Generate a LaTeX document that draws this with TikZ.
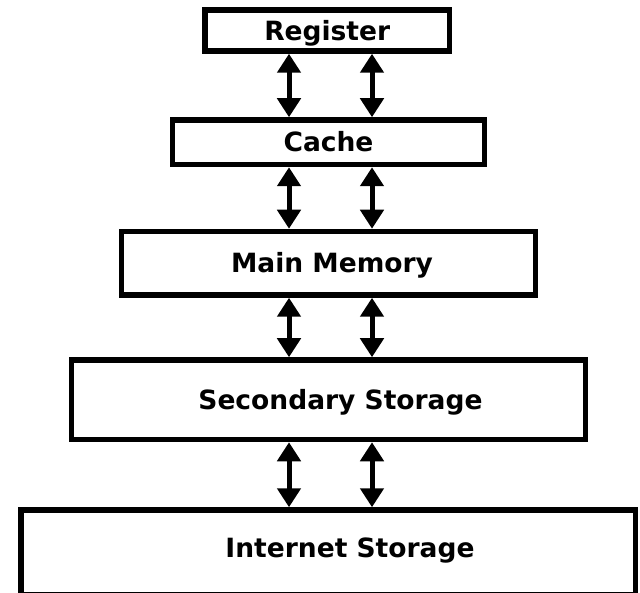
\documentclass[tikz,border=0pt]{standalone}
\usepackage{fontspec}
\setsansfont{DejaVu Sans}
\usetikzlibrary{arrows.meta}
\begin{document}
\begin{tikzpicture}[x=1pt,y=-1pt,
  box/.style={draw=black, line width=5.5pt, fill=white, inner sep=0pt,
    font=\sffamily\bfseries\fontsize{26.5}{30}\selectfont,
    text height=19.3pt, text depth=0pt},
  link/.style={line width=5pt,
    {Triangle[width=23pt,length=19pt]}-{Triangle[width=23pt,length=19pt]}}]
\useasboundingbox (0,0) rectangle (640,593);
\fill[white] (0,0) rectangle (640,593);
\node[box, minimum width=244.5pt, minimum height=41pt] (reg) at (327.25,30.5) {Register};
\node[box, minimum width=312pt, minimum height=44.5pt] (cache) at (328.5,142.25) {Cache};
\node[box, minimum width=414pt, minimum height=63.5pt] (main) at (328.5,263.25) {\hspace*{7pt}Main Memory};
\node[box, minimum width=514pt, minimum height=79.5pt] (sec) at (328.5,399.75) {\hspace*{24pt}Secondary Storage};
\node[box, minimum width=614.5pt, minimum height=84.5pt, text depth=9.5pt] (net) at (328.25,552.25) {\hspace*{43.5pt}Internet Storage};
\coordinate (L) at (289,0);
\coordinate (R) at (372,0);
\foreach \a/\b in {reg/cache, cache/main, main/sec, sec/net}{
  \draw[link] (L |- \a.south) -- (L |- \b.north);
  \draw[link] (R |- \a.south) -- (R |- \b.north);
}
\end{tikzpicture}
\end{document}
